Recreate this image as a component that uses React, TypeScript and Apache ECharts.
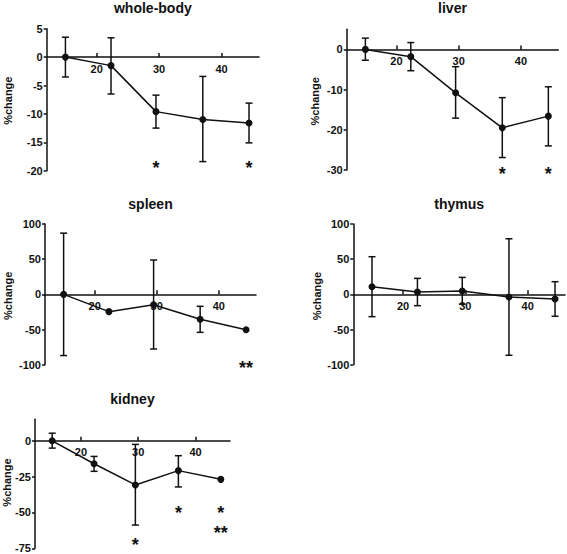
import React, { useEffect, useRef } from 'react';
import * as echarts from 'echarts';

// ---- data ----
const days = [15, 22.3, 29.5, 37, 44.4];
const xTickValues = [20, 30, 40];

const wholeBodyMean = [0, -1.5, -9.6, -11, -11.6];
const wholeBodyHigh = [3.5, 3.4, -6.7, -3.4, -8.1];
const wholeBodyLow = [-3.5, -6.5, -12.5, -18.4, -15.1];
const wholeBodyTicks = [-20, -15, -10, -5, 0, 5];
const wholeBodyStars = [
  { x: 29.5, y: -18.7, text: '*' },
  { x: 44.4, y: -18.7, text: '*' },
];

const liverMean = [0, -1.8, -10.8, -19.5, -16.6];
const liverHigh = [2.8, 1.7, -4.3, -12.0, -9.3];
const liverLow = [-2.7, -5.3, -17.1, -26.9, -24.0];
const liverTicks = [-30, -20, -10, 0];
const liverStars = [
  { x: 37, y: -29.9, text: '*' },
  { x: 44.4, y: -29.9, text: '*' },
];

const spleenMean = [0, -24.6, -14.7, -35.5, -50.2];
const spleenHigh = [87, null, 48.8, -17, null];
const spleenLow = [-87, null, -77.7, -54, null];
const spleenTicks = [-100, -50, 0, 50, 100];
const spleenStars = [{ x: 44.4, y: -99, text: '**' }];

const thymusMean = [10.9, 3.3, 4.7, -3.8, -6.6];
const thymusHigh = [53.5, 22.7, 24.1, 79, 18];
const thymusLow = [-31.7, -16.1, -14, -86.6, -31.2];
const thymusTicks = [-100, -50, 0, 50, 100];
const thymusStars: { x: number; y: number; text: string }[] = [];

const kidneyMean = [0, -16, -30.8, -20.8, -26.9];
const kidneyHigh = [5.3, -10.9, -2.5, -10.4, null];
const kidneyLow = [-5.1, -21.3, -58.8, -32.2, null];
const kidneyTicks = [-75, -50, -25, 0];
const kidneyStars = [
  { x: 29.5, y: -69.5, text: '*' },
  { x: 37, y: -47.5, text: '*' },
  { x: 44.4, y: -47.5, text: '*' },
  { x: 44.4, y: -61, text: '**' },
];

const panelTitles = ['whole-body', 'liver', 'spleen', 'thymus', 'kidney'];
const yName = '%change';

const panelData = [
  { mean: wholeBodyMean, high: wholeBodyHigh, low: wholeBodyLow, ticks: wholeBodyTicks, stars: wholeBodyStars, yMin: -20, yMax: 5 },
  { mean: liverMean, high: liverHigh, low: liverLow, ticks: liverTicks, stars: liverStars, yMin: -30, yMax: 5 },
  { mean: spleenMean, high: spleenHigh, low: spleenLow, ticks: spleenTicks, stars: spleenStars, yMin: -100, yMax: 100 },
  { mean: thymusMean, high: thymusHigh, low: thymusLow, ticks: thymusTicks, stars: thymusStars, yMin: -100, yMax: 100 },
  { mean: kidneyMean, high: kidneyHigh, low: kidneyLow, ticks: kidneyTicks, stars: kidneyStars, yMin: -75, yMax: 15 },
];

// ---- layout ----
const layouts = [
  { grid: { left: 46.7, top: 28.7, width: 212.3, height: 142 }, name: [8, 100.7] },
  { grid: { left: 346.7, top: 29.3, width: 211.6, height: 140.7 }, name: [315, 101.3] },
  { grid: { left: 45, top: 224, width: 211, height: 140.7 }, name: [8, 295.8] },
  { grid: { left: 353.3, top: 224, width: 211.7, height: 140.7 }, name: [317, 296] },
  { grid: { left: 35, top: 419.3, width: 195, height: 129 }, name: [6.5, 482.5] },
];
const titleTops = [1, 1, 197, 197, 392];

const FONT = '"Liberation Sans", Arial, sans-serif';
const INK = '#111';

export default function App() {
  const ref = useRef<HTMLDivElement>(null);
  useEffect(() => {
    document.body.style.margin = '0';
    if (!ref.current) return;
    const chart = echarts.init(ref.current, null, { renderer: 'svg' });

    const grids: any[] = [];
    const xAxes: any[] = [];
    const yAxes: any[] = [];
    const series: any[] = [];
    const graphics: any[] = [];

    panelData.forEach((p, i) => {
      const L = layouts[i];
      grids.push({ ...L.grid, containLabel: false });
      // place the x axis at y = 0 (line, ticks and labels together)
      const zeroOffset = -L.grid.height * (0 - p.yMin) / (p.yMax - p.yMin);
      xAxes.push({
        type: 'value',
        gridIndex: i,
        position: 'bottom',
        offset: zeroOffset,
        min: 12,
        max: 46,
        splitLine: { show: false },
        axisLine: { onZero: false, lineStyle: { color: INK, width: 1.5 } },
        axisTick: { show: true, inside: true, length: 4, customValues: xTickValues, lineStyle: { color: INK, width: 1.5 } },
        axisLabel: { customValues: xTickValues, color: INK, fontWeight: 'bold', fontSize: 11, fontFamily: FONT, margin: 6 },
      });
      yAxes.push({
        type: 'value',
        gridIndex: i,
        min: p.yMin,
        max: p.yMax,
        splitLine: { show: false },
        axisLine: { show: true, onZero: false, lineStyle: { color: INK, width: 1.5 } },
        axisTick: { show: true, length: 3, customValues: p.ticks, lineStyle: { color: INK, width: 1.5 } },
        axisLabel: { customValues: p.ticks, color: INK, fontWeight: 'bold', fontSize: 11, fontFamily: FONT, margin: 4 },
      });

      const errData: any[] = [];
      days.forEach((d, k) => {
        if (p.high[k] != null && p.low[k] != null) errData.push([d, p.high[k], p.low[k]]);
      });
      series.push({
        type: 'custom',
        xAxisIndex: i,
        yAxisIndex: i,
        z: 2,
        silent: true,
        encode: { x: 0, y: [1, 2] },
        data: errData,
        renderItem: (params: any, api: any) => {
          const x = api.value(0);
          const top = api.coord([x, api.value(1)]);
          const bot = api.coord([x, api.value(2)]);
          const w = 3.5;
          const style = { stroke: INK, lineWidth: 1.5, fill: 'none' };
          return {
            type: 'group',
            children: [
              { type: 'line', shape: { x1: top[0], y1: top[1], x2: bot[0], y2: bot[1] }, style },
              { type: 'line', shape: { x1: top[0] - w, y1: top[1], x2: top[0] + w, y2: top[1] }, style },
              { type: 'line', shape: { x1: bot[0] - w, y1: bot[1], x2: bot[0] + w, y2: bot[1] }, style },
            ],
          };
        },
      });

      series.push({
        type: 'line',
        xAxisIndex: i,
        yAxisIndex: i,
        z: 3,
        silent: true,
        symbol: 'circle',
        symbolSize: 7,
        itemStyle: { color: INK },
        lineStyle: { color: INK, width: 1.5 },
        data: days.map((d, k) => [d, p.mean[k]]),
      });

      if (p.stars.length) {
        const stars = p.stars;
        series.push({
          type: 'custom',
          xAxisIndex: i,
          yAxisIndex: i,
          z: 4,
          silent: true,
          data: stars.map((s) => [s.x, s.y]),
          renderItem: (params: any, api: any) => {
            const pt = api.coord([api.value(0), api.value(1)]);
            return {
              type: 'text',
              x: pt[0],
              y: pt[1] + 4.5,
              style: {
                text: stars[params.dataIndex].text,
                fill: INK,
                font: `bold 18px ${FONT}`,
                align: 'center',
                verticalAlign: 'middle',
              },
            };
          },
        });
      }

      graphics.push({
        type: 'text',
        x: L.grid.left + L.grid.width / 2,
        y: titleTops[i],
        style: {
          text: panelTitles[i],
          fill: INK,
          font: `bold 14px ${FONT}`,
          align: 'center',
          verticalAlign: 'top',
        },
      });
      graphics.push({
        type: 'text',
        x: L.name[0],
        y: L.name[1],
        rotation: Math.PI / 2,
        style: {
          text: yName,
          fill: INK,
          font: `bold 11px ${FONT}`,
          align: 'center',
          verticalAlign: 'middle',
        },
      });
    });

    chart.setOption({
      animation: false,
      backgroundColor: '#fff',
      grid: grids,
      xAxis: xAxes,
      yAxis: yAxes,
      series,
      graphic: graphics,
    });
    return () => chart.dispose();
  }, []);
  return <div ref={ref} style={{ width: 567, height: 554 }} />;
}
